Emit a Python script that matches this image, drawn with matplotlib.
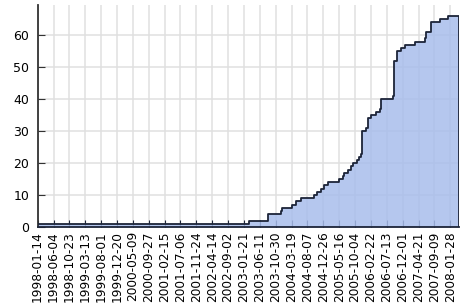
import numpy as np
import pandas as pd
import matplotlib
matplotlib.use('Agg')
import matplotlib.pyplot as plt

# Step dates and cumulative count after each step
step_dates = ['1998-01-14', '2003-03-07', '2003-08-26', '2003-12-14', '2003-12-29',
              '2004-03-27', '2004-04-26', '2004-06-10', '2004-10-07', '2004-10-28',
              '2004-12-05', '2004-12-29', '2005-02-09', '2005-05-18', '2005-06-16',
              '2005-07-01', '2005-07-31', '2005-08-29', '2005-09-13', '2005-10-19',
              '2005-11-12', '2005-11-27', '2005-12-06', '2006-01-11', '2006-01-26',
              '2006-02-24', '2006-04-10', '2006-05-10', '2006-05-25', '2006-09-05',
              '2006-09-14', '2006-10-11', '2006-11-19', '2006-12-19', '2007-03-18',
              '2007-06-15', '2007-06-30', '2007-08-08', '2007-10-27', '2008-01-09']
step_values = [1, 2, 4, 5, 6,
               7, 8, 9, 10, 11,
               12, 13, 14, 15, 16,
               17, 18, 19, 20, 21,
               22, 23, 30, 31, 34,
               35, 36, 37, 40, 41,
               52, 55, 56, 57, 58,
               59, 61, 64, 65, 66]
end_date = '2008-04-14'

tick_labels = ['1998-01-14', '1998-06-04', '1998-10-23', '1999-03-13', '1999-08-01',
               '1999-12-20', '2000-05-09', '2000-09-27', '2001-02-15', '2001-07-06',
               '2001-11-24', '2002-04-14', '2002-09-02', '2003-01-21', '2003-06-11',
               '2003-10-30', '2004-03-19', '2004-08-07', '2004-12-26', '2005-05-16',
               '2005-10-04', '2006-02-22', '2006-07-13', '2006-12-01', '2007-04-21',
               '2007-09-09', '2008-01-28']

x = pd.to_datetime(step_dates + [end_date, end_date])
y = np.array(step_values + [step_values[-1], 0])
ticks = pd.to_datetime(tick_labels)

fig = plt.figure(figsize=(4.65, 3.06), dpi=100)
ax = fig.add_axes([0.081, 0.258, 0.906, 0.726])

ax.fill_between(x, y, step='post', color='#a8bdeb', alpha=0.85, lw=0, zorder=2)
ax.step(x, y, where='post', color='#1c2438', lw=1.3, zorder=3)

ax.set_xlim(x[0], x[-1])
ax.set_ylim(0, 69.5)
ax.set_xticks(ticks)
ax.set_xticklabels(tick_labels, rotation=90, fontsize=8.7)
ax.set_yticks(np.arange(0, 61, 10))
ax.tick_params(axis='y', labelsize=9, direction='in', length=5, color='#333333', pad=6)
ax.tick_params(axis='x', direction='in', length=5, color='#1c2438', pad=3)

ax.grid(True, color='#e0e0e0', lw=1.1, zorder=1)
ax.set_axisbelow(True)
for s in ['top', 'right']:
    ax.spines[s].set_visible(False)
ax.spines['left'].set_color('#333333')
ax.spines['left'].set_linewidth(1.3)
ax.spines['bottom'].set_color('#1c2438')
ax.spines['bottom'].set_linewidth(1.3)

plt.savefig('out.png', dpi=100)
